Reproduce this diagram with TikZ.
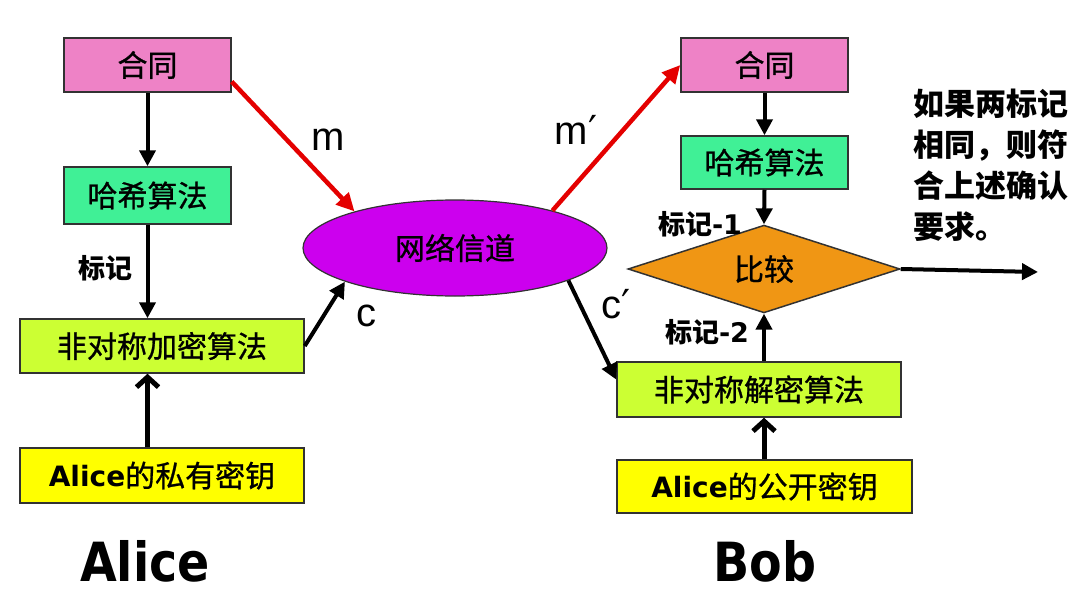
\documentclass[tikz,border=0pt]{standalone}
\usepackage{fontspec}
\usetikzlibrary{shapes.geometric,arrows.meta,calc}
\newfontfamily\cjk{Noto Sans CJK SC}
\newfontfamily\cjkm[FakeBold=0.9]{Noto Sans CJK SC}
\newfontfamily\dv{DejaVu Sans}
\newfontfamily\lib{Liberation Sans}
\definecolor{cpink}{RGB}{238,130,198}
\definecolor{cgreen}{RGB}{64,240,150}
\definecolor{clime}{RGB}{204,255,51}
\definecolor{cyel}{RGB}{255,255,0}
\definecolor{cmag}{RGB}{204,0,238}
\definecolor{corange}{RGB}{240,150,20}
\definecolor{cred}{RGB}{228,0,0}
\definecolor{cborder}{RGB}{50,50,50}
\begin{document}
\begin{tikzpicture}[x=1pt,y=-1pt,
  box/.style={draw=cborder,line width=1.5pt,inner sep=0pt,
    font=\cjkm\fontsize{30}{30}\selectfont},
  blk/.style={line width=4pt,-{Triangle[length=16pt,width=16pt]}},
  openarr/.style={line width=5pt,-{Straight Barb[length=10pt,width=22pt]}},
  redarr/.style={draw=cred,line width=4.5pt,-{Triangle[length=18pt,width=17pt]},color=cred},
  lbl/.style={font=\cjk\bfseries\fontsize{27}{27}\selectfont,inner sep=0pt},
  sym/.style={font=\lib\fontsize{40}{40}\selectfont,inner sep=0pt},
  big/.style={font=\dv\bfseries\fontsize{54}{54}\selectfont,inner sep=0pt}]
\useasboundingbox (0,0) rectangle (1092,610);

% Alice side
\node[box,fill=cpink,minimum width=167pt,minimum height=54pt] (aHe) at (147.5,65) {合同};
\node[box,fill=cgreen,minimum width=167pt,minimum height=57pt] (aHash) at (147.5,195.5) {哈希算法};
\node[box,fill=clime,minimum width=284pt,minimum height=54pt] (aEnc) at (162,346) {非对称加密算法};
\node[box,fill=cyel,minimum width=284pt,minimum height=55pt] (aKey) at (162,475.5) {{\dv\bfseries\fontsize{28}{28}\selectfont Alice}的私有密钥};
\node[big] (alice) at (145,561) {\scalebox{0.88}[1]{Alice}};

% channel
\node[ellipse,draw=cborder,line width=1.2pt,fill=cmag,minimum width=304pt,minimum height=96pt,inner sep=0pt,
  font=\cjkm\fontsize{30}{30}\selectfont] (net) at (455,248) {网络信道};

% Bob side
\node[box,fill=cpink,minimum width=167pt,minimum height=54pt] (bHe) at (764.5,65) {合同};
\node[box,fill=cgreen,minimum width=167pt,minimum height=53pt] (bHash) at (764.5,162.5) {哈希算法};
\node[diamond,draw=cborder,line width=1.5pt,fill=corange,minimum width=272pt,minimum height=72pt,inner sep=0pt,
  font=\cjkm\fontsize{30}{30}\selectfont] (cmp) at (764,269) {比较};
\node[box,fill=clime,minimum width=284pt,minimum height=55pt] (bDec) at (759,389.5) {非对称解密算法};
\node[box,fill=cyel,minimum width=295pt,minimum height=53pt] (bKey) at (764.5,486.5) {{\dv\bfseries\fontsize{28}{28}\selectfont Alice}的公开密钥};
\node[big] (bob) at (765,561) {\scalebox{0.88}[1]{Bob}};
\coordinate (res) at (1038,272);

\node[anchor=north west,inner sep=0pt,align=left,font=\cjk\bfseries\fontsize{31}{41}\selectfont] (note) at (913,89)
  {如果两标记\\相同，则符\\合上述确认\\要求。};

% labels
\node[lbl] (t0) at (105,268) {标记};
\node[lbl] (t1) at (700,224) {标记{\dv\bfseries -1}};
\node[lbl] (t2) at (707,332) {标记{\dv\bfseries -2}};
\node[sym] (lm) at (328,140) {m};
\node[sym] (lc) at (366,316) {c};
\node[sym] (lm2) at (576,130) {m{\dv ′}};
\node[sym] (lc2) at (616,304) {c{\dv ′}};

% connectors
\draw[blk] (aHe) -- (aHash);
\draw[blk] (aHash.south) -- (aHash.south |- aEnc.north);
\draw[openarr] (aHash.south |- aKey.north) -- (aHash.south |- aEnc.south);
\draw[redarr] ($(aHe.east)!0.6!(aHe.south east)$) -- (net.160);
\draw[blk] (aEnc.east) -- (net.197);
\draw[redarr] (net.21) -- (bHe.west);
\draw[blk] (net.344) -- ($(bDec.west)!0.35!(bDec.north west)$);
\draw[blk] (bHe) -- (bHash);
\draw[blk] (bHash.south) -- (cmp.north);
\draw[blk] (cmp.south |- bDec.north) -- (cmp.south);
\draw[openarr] (cmp.south |- bKey.north) -- (cmp.south |- bDec.south);
\draw[blk] (cmp.east) -- (res);
\end{tikzpicture}
\end{document}
